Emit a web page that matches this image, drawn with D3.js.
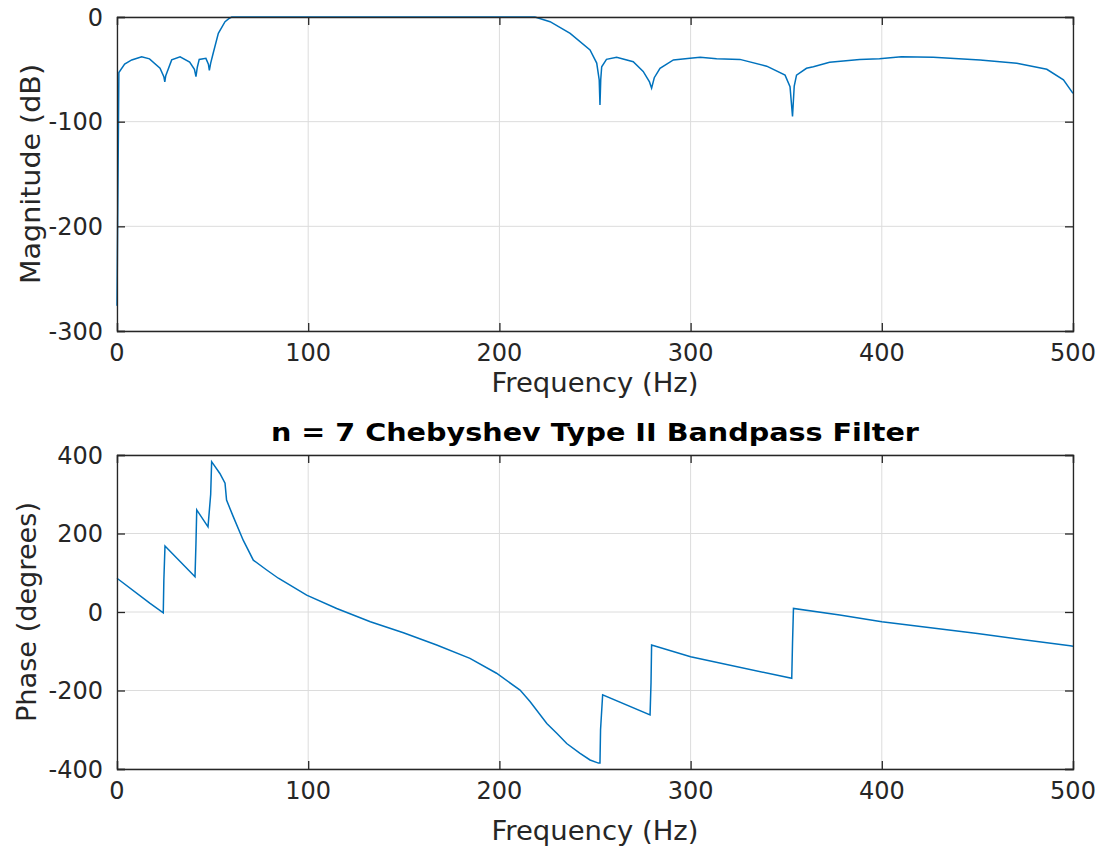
<!DOCTYPE html>
<html><head><meta charset="utf-8">
<script src="https://cdn.jsdelivr.net/npm/d3@7"></script>
<style>
body{margin:0;background:#fff;}
text{font-family:"DejaVu Sans",sans-serif;fill:#262626;}
</style></head>
<body><svg id="c" width="1101" height="850"></svg>
<script>
// ---- data ----
const magFreq = [0,0.98,4,7.7,12.9,17,22.5,24.5,25,25.5,28.6,33,38,40.5,41.3,42,43,46.5,47.8,48.3,49,50.3,53,56.5,58.5,60,100,150,200,218.6,226.5,237,247.4,250.9,252.2,252.6,253,253.5,256,261.3,270,275.2,278.5,279.6,281,284,291,299.7,305,313.6,325.8,339.8,349.4,352,353.3,354.2,355.4,360.6,364.2,372.7,388.4,398.8,410.2,426.9,451.4,470.6,486.3,495,500];
const magDb   = [-276,-53,-45,-41,-38,-40,-49,-57,-62,-56,-41,-38,-43,-50,-57,-48,-40.5,-39.5,-45,-51,-44,-34.6,-15.6,-4.5,-1.5,0,0,0,0,0,-4.5,-15.6,-31.5,-44,-60,-84,-60,-47.5,-40.5,-38.5,-42.7,-52,-62,-68,-58,-49,-41,-39.5,-38.5,-39.8,-40.5,-47,-55.5,-66.6,-95,-66,-55.5,-49,-47.5,-43.3,-40.5,-39.8,-37.9,-38.5,-41,-44.3,-50,-60,-73];
const phFreq = [0,17.3,24.2,24.5,25.1,40.8,41.3,41.7,47.6,49,49.5,53.8,56.5,57.3,60.8,66,71.3,78.3,84.4,99.2,114.9,132.5,149.8,167.2,184.6,198.5,210.8,216,224.8,230,235.2,242.2,247.4,251.8,252.6,252.9,254,278.8,279.3,279.6,300,352.9,353.3,353.8,378,400,450,498.5,500];
const phDeg  = [86,22,-2,80,168,90,175,260,217,300,383,353,328,285,243,183,132,107,86,43,9,-25,-53,-84,-118,-156,-199,-228,-284,-309,-335,-360,-377,-385,-385,-300,-211,-262,-180,-84,-114,-169,-80,9,-7.6,-25,-55,-86,-87];
const xTicks = [0,100,200,300,400,500];
const magTicks = [0,-100,-200,-300];
const phTicks = [400,200,0,-200,-400];
const title = "n = 7 Chebyshev Type II Bandpass Filter";
const xLabel = "Frequency (Hz)";
const magLabel = "Magnitude (dB)";
const phLabel = "Phase (degrees)";

const svg = d3.select("#c");
svg.append("rect").attr("width",1101).attr("height",850).attr("fill","#fff");

const L=117, R=1073;
const x = d3.scaleLinear().domain([0,500]).range([L,R]);
const fmt = d => String(d); // plain hyphen-minus like the reference

function panel(top, bottom, yDomain, yTicks, fx, fy, yLab, yLabX, xLabY, ttl){
  const y = d3.scaleLinear().domain(yDomain).range([bottom, top]);
  const g = svg.append("g");
  // grid
  g.selectAll(".gx").data(xTicks).enter().append("line")
    .attr("x1",d=>x(d)).attr("x2",d=>x(d)).attr("y1",top).attr("y2",bottom)
    .attr("stroke","#dcdcdc").attr("stroke-width",1);
  g.selectAll(".gy").data(yTicks).enter().append("line")
    .attr("x1",L).attr("x2",R).attr("y1",d=>y(d)).attr("y2",d=>y(d))
    .attr("stroke","#dcdcdc").attr("stroke-width",1);
  // curve
  const pts = fx.map((f,i)=>[f,fy[i]]);
  g.append("path").datum(pts)
    .attr("d", d3.line().x(d=>x(d[0])).y(d=>y(d[1])))
    .attr("fill","none").attr("stroke","#0072BD").attr("stroke-width",1.5);
  // axes (ticks inward)
  const tl = 8;
  const ax = d3.axisBottom(x).tickValues(xTicks).tickSize(-tl).tickFormat("");
  const ax2 = d3.axisTop(x).tickValues(xTicks).tickSize(-tl).tickFormat("");
  const ay = d3.axisLeft(y).tickValues(yTicks).tickSize(-tl).tickFormat("");
  const ay2 = d3.axisRight(y).tickValues(yTicks).tickSize(-tl).tickFormat("");
  [[ax,`translate(0,${bottom})`],[ax2,`translate(0,${top})`],[ay,`translate(${L},0)`],[ay2,`translate(${R},0)`]].forEach(([a,t])=>{
    const s = g.append("g").attr("transform",t).call(a);
    s.select(".domain").attr("stroke","#262626").attr("stroke-width",1.3);
    s.selectAll(".tick line").attr("stroke","#262626").attr("stroke-width",1.3);
  });
  // tick labels
  g.selectAll(".xt").data(xTicks).enter().append("text")
    .attr("x",d=>x(d)).attr("y",bottom+30).attr("text-anchor","middle")
    .style("font-size","24px").text(fmt);
  g.selectAll(".yt").data(yTicks).enter().append("text")
    .attr("x",L-14).attr("y",d=>y(d)+8.5).attr("text-anchor","end")
    .style("font-size","24px").text(fmt);
  // labels
  g.append("text").attr("x",(L+R)/2).attr("y",xLabY).attr("text-anchor","middle")
    .attr("textLength",207).attr("lengthAdjust","spacingAndGlyphs")
    .style("font-size","26px").text(xLabel);
  g.append("text").attr("transform",`translate(${yLabX},${(top+bottom)/2}) rotate(-90)`)
    .attr("text-anchor","middle").attr("textLength",220).attr("lengthAdjust","spacingAndGlyphs")
    .style("font-size","26px").text(yLab);
  if(ttl){
    g.append("text").attr("x",(L+R)/2).attr("y",top-14).attr("text-anchor","middle")
      .attr("textLength",648).attr("lengthAdjust","spacingAndGlyphs")
      .style("font-size","25px").style("font-weight","bold").style("fill","#000").text(ttl);
  }
}
panel(17,331,[-300,0],magTicks,magFreq,magDb,magLabel,40,392,null);
panel(455,769,[-400,400],phTicks,phFreq,phDeg,phLabel,36,840,title);
</script></body></html>
